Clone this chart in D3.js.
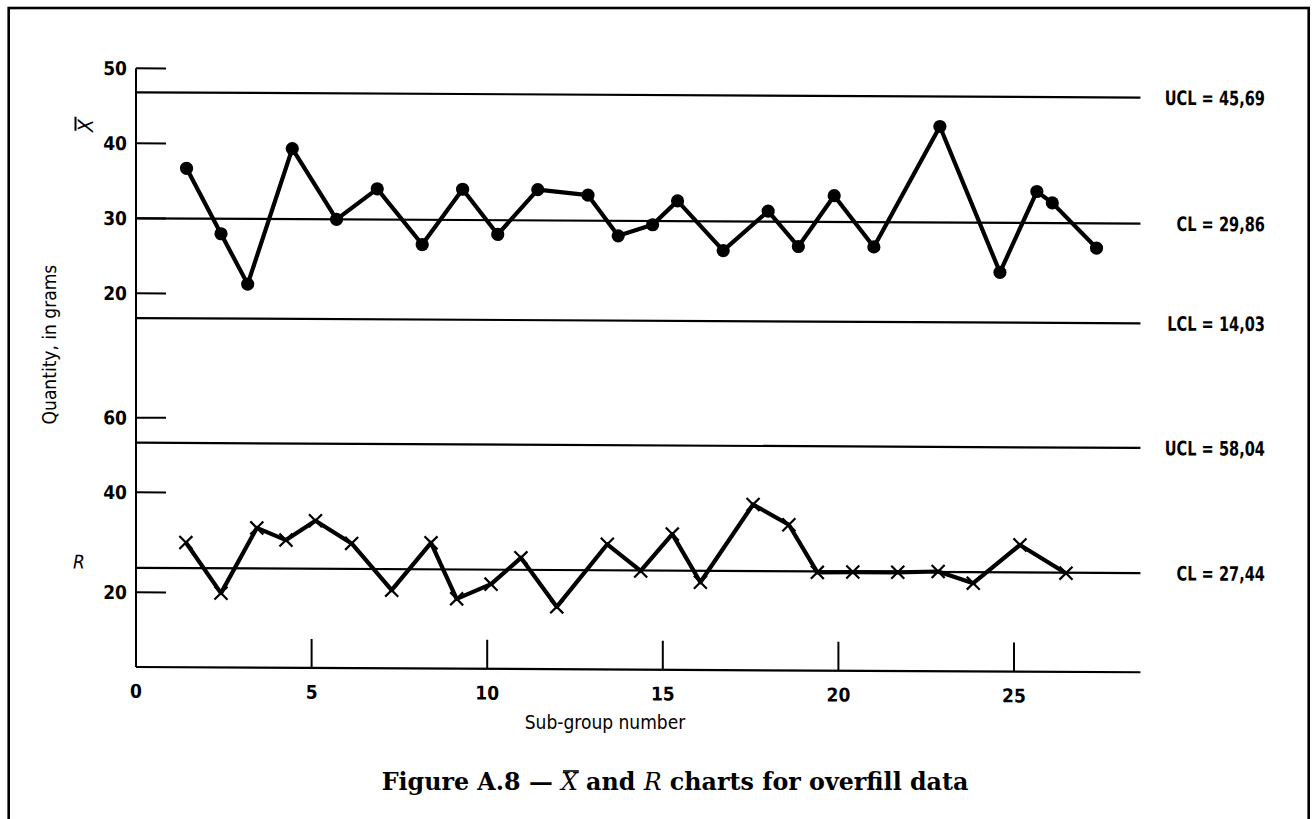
<!DOCTYPE html>
<html>
<head>
<meta charset="utf-8">
<script src="https://cdn.jsdelivr.net/npm/d3@7"></script>
<style>
  body { margin: 0; background: #fff; }
  svg text { font-family: 'Liberation Sans Narrow', 'DejaVu Sans Condensed', sans-serif; fill: #000; }
  text.caption { font-family: 'DejaVu Serif', serif; }
</style>
</head>
<body>
<svg id="chart" width="1314" height="819"></svg>
<script>
// sub-group positions and values
const xbar_pos = [1.44, 2.42, 3.18, 4.45, 5.71, 6.87, 8.15, 9.30, 10.30, 11.44, 12.87, 13.73,
                  14.71, 15.42, 16.72, 18.00, 18.86, 19.88, 21.01, 22.89, 24.60, 25.65, 26.09, 27.35];
const xbar_val = [36.7, 28.0, 21.3, 39.4, 30.0, 34.1, 26.7, 34.1, 28.1, 34.1, 33.4, 28.0,
                  29.5, 32.7, 26.1, 31.4, 26.7, 33.5, 26.7, 42.8, 23.4, 34.2, 32.7, 26.7];
const r_pos = [1.42, 2.42, 3.44, 4.27, 5.11, 6.14, 7.28, 8.40, 9.13, 10.11, 10.96, 11.98, 13.42,
               14.37, 15.27, 16.07, 17.57, 18.59, 19.40, 20.41, 21.69, 22.84, 23.84, 25.17, 26.48];
const r_val = [30.0, 19.9, 33.0, 30.6, 34.5, 30.0, 20.7, 30.2, 18.7, 22.0, 27.3, 16.7, 30.1,
               24.8, 32.2, 22.6, 38.2, 34.2, 24.7, 24.8, 24.8, 25.0, 22.7, 30.4, 24.8];

// control lines (where drawn) and their labels
const xbar_limits = [46.8, 30.0, 16.7];
const xbar_limit_labels = ["UCL = 45,69", "CL = 29,86", "LCL = 14,03"];
const r_limits = [53.3, 24.9];
const r_limit_labels = ["UCL = 58,04", "CL = 27,44"];

// ticks
const xbar_ticks = [50, 40, 30, 20];
const r_ticks = [60, 40, 20];
const x_ticks = [5, 10, 15, 20, 25];
const x_tick_labels = [0, 5, 10, 15, 20, 25];
const x_end = 28.6;

const svg = d3.select("#chart");

// frame
svg.append("rect")
  .attr("x", 8.7).attr("y", 8)
  .attr("width", 1300).attr("height", 900)
  .attr("fill", "none").attr("stroke", "#000").attr("stroke-width", 2.6);

const x = d3.scaleLinear().domain([0, 25]).range([136, 1014]);
const y_xbar = d3.scaleLinear().domain([20, 50]).range([293.3, 68.3]);
// the drawing's R axis is not evenly spaced
const y_r = d3.scaleLinear().domain([0, 20, 40, 60]).range([667, 592.3, 492.3, 417.7]);

// the scan sits a little askew
const skew = 0.3;
const g = svg.append("g")
  .attr("transform", `translate(0,${-136 * Math.tan(skew * Math.PI / 180)}) skewY(${skew})`);

const x0 = x(0);

// narrow lettering: squeeze text horizontally
function narrow(sel, k) {
  sel.each(function() {
    const w = this.getComputedTextLength();
    d3.select(this)
      .attr("textLength", w * k)
      .attr("lengthAdjust", "spacingAndGlyphs");
  });
}

// y axis
g.append("line")
  .attr("x1", x0).attr("x2", x0)
  .attr("y1", y_xbar(50)).attr("y2", y_r(0))
  .attr("stroke", "#000").attr("stroke-width", 2);

// bottom axis
g.append("line")
  .attr("x1", x0).attr("x2", x(x_end))
  .attr("y1", y_r(0)).attr("y2", y_r(0))
  .attr("stroke", "#000").attr("stroke-width", 2.2);

function y_ticks(ticks, scale, cls) {
  g.selectAll(`line.${cls}`)
    .data(ticks)
    .join("line")
      .classed(cls, true)
      .attr("x1", x0).attr("x2", x0 + 30)
      .attr("y1", d => scale(d)).attr("y2", d => scale(d))
      .attr("stroke", "#000").attr("stroke-width", 2);
  g.selectAll(`text.${cls}`)
    .data(ticks)
    .join("text")
      .classed(cls, true)
      .attr("x", x0 - 9)
      .attr("y", d => scale(d))
      .attr("dy", "0.36em")
      .attr("text-anchor", "end")
      .attr("font-size", 19)
      .attr("font-weight", "bold")
      .text(d => d);
}
y_ticks(xbar_ticks, y_xbar, "tick-xbar");
y_ticks(r_ticks, y_r, "tick-r");

// x ticks
g.selectAll("line.xtick")
  .data(x_ticks)
  .join("line")
    .classed("xtick", true)
    .attr("x1", d => x(d)).attr("x2", d => x(d))
    .attr("y1", y_r(0)).attr("y2", y_r(0) - 29)
    .attr("stroke", "#000").attr("stroke-width", 2);
g.selectAll("text.xtick")
  .data(x_tick_labels)
  .join("text")
    .classed("xtick", true)
    .attr("x", d => x(d))
    .attr("y", y_r(0) + 24)
    .attr("dy", "0.36em")
    .attr("text-anchor", "middle")
    .attr("font-size", 19)
    .attr("font-weight", "bold")
    .text(d => d);

// control lines
function limits(vals, labels, scale, cls) {
  g.selectAll(`line.${cls}`)
    .data(vals)
    .join("line")
      .classed(cls, true)
      .attr("x1", x0).attr("x2", x(x_end))
      .attr("y1", d => scale(d)).attr("y2", d => scale(d))
      .attr("stroke", "#000").attr("stroke-width", 2.2);
  g.selectAll(`text.${cls}`)
    .data(vals)
    .join("text")
      .classed(cls, true)
      .attr("x", 1265)
      .attr("y", d => scale(d))
      .attr("dy", "0.36em")
      .attr("text-anchor", "end")
      .attr("font-size", 20)
      .attr("font-weight", "bold")
      .text((d, i) => labels[i])
      .call(narrow, 0.81);
}
limits(xbar_limits, xbar_limit_labels, y_xbar, "lim-xbar");
limits(r_limits, r_limit_labels, y_r, "lim-r");

// X-bar series
const xbar_data = xbar_pos.map((p, i) => [p, xbar_val[i]]);
g.append("path")
  .datum(xbar_data)
  .attr("d", d3.line().x(d => x(d[0])).y(d => y_xbar(d[1])))
  .attr("fill", "none").attr("stroke", "#000")
  .attr("stroke-width", 4.2).attr("stroke-linejoin", "round");
g.selectAll("circle.xbar")
  .data(xbar_data)
  .join("circle")
    .classed("xbar", true)
    .attr("cx", d => x(d[0]))
    .attr("cy", d => y_xbar(d[1]))
    .attr("r", 6.6)
    .attr("fill", "#000");

// R series
const r_data = r_pos.map((p, i) => [p, r_val[i]]);
g.append("path")
  .datum(r_data)
  .attr("d", d3.line().x(d => x(d[0])).y(d => y_r(d[1])))
  .attr("fill", "none").attr("stroke", "#000")
  .attr("stroke-width", 4.2).attr("stroke-linejoin", "round");
const h = 6.5;
g.selectAll("path.cross")
  .data(r_data)
  .join("path")
    .classed("cross", true)
    .attr("d", d => {
      const cx = x(d[0]), cy = y_r(d[1]);
      return `M${cx - h},${cy - h}L${cx + h},${cy + h}M${cx - h},${cy + h}L${cx + h},${cy - h}`;
    })
    .attr("stroke", "#000").attr("stroke-width", 2.2);

// series labels
const xb = g.append("g").attr("transform", "translate(86,126) rotate(-90)");
xb.append("text")
  .attr("x", 0).attr("y", 7)
  .attr("text-anchor", "middle")
  .attr("font-size", 21).attr("font-style", "italic")
  .text("X");
xb.append("line")
  .attr("x1", -5).attr("x2", 9).attr("y1", -10.5).attr("y2", -10.5)
  .attr("stroke", "#000").attr("stroke-width", 2);
g.append("text")
  .attr("x", 79).attr("y", 562)
  .attr("dy", "0.36em")
  .attr("text-anchor", "middle")
  .attr("font-size", 19).attr("font-style", "italic")
  .text("R");

// axis titles
g.append("text")
  .attr("transform", "translate(56,345) rotate(-90)")
  .attr("text-anchor", "middle")
  .attr("font-size", 19)
  .text("Quantity, in grams");
svg.append("text")
  .attr("x", 605).attr("y", 722)
  .attr("dy", "0.36em")
  .attr("text-anchor", "middle")
  .attr("font-size", 19)
  .text("Sub-group number");

// caption
const cap = svg.append("text")
  .classed("caption", true)
  .attr("x", 675).attr("y", 790)
  .attr("text-anchor", "middle")
  .attr("font-size", 21)
  .attr("font-weight", "bold");
cap.append("tspan").text("Figure A.8 \u2014 ");
cap.append("tspan").attr("font-style", "italic").attr("font-weight", "normal").text("X");
cap.append("tspan").text(" and ");
cap.append("tspan").attr("font-style", "italic").attr("font-weight", "normal").text("R");
cap.append("tspan").text(" charts for overfill data");

// fit caption to the width it takes in the figure
const cap_w = cap.node().getComputedTextLength();
cap.attr("font-size", 21 * 587 / cap_w);
const xi = "Figure A.8 \u2014 ".length;
const p0 = cap.node().getStartPositionOfChar(xi);
const p1 = cap.node().getEndPositionOfChar(xi);
svg.append("line")
  .attr("x1", p0.x + 2).attr("x2", p1.x + 1)
  .attr("y1", 790 - 19).attr("y2", 790 - 19)
  .attr("stroke", "#000").attr("stroke-width", 1.6);
</script>
</body>
</html>
